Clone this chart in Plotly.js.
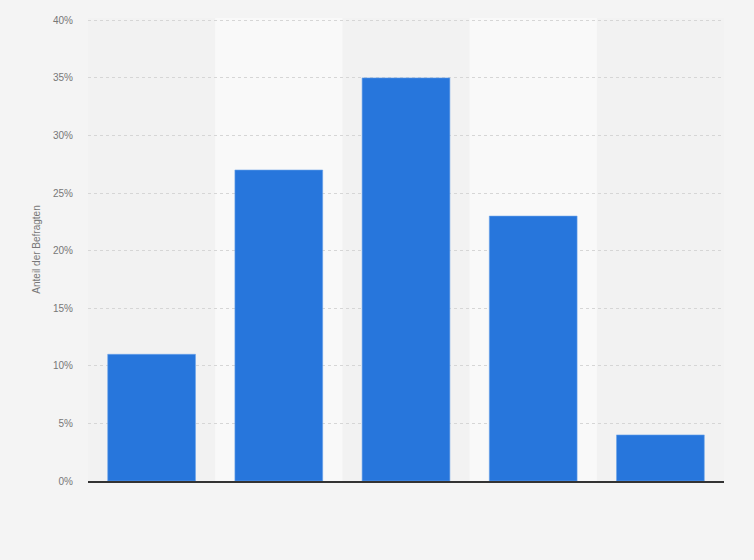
<!DOCTYPE html>
<html>
<head>
<meta charset="utf-8">
<script src="https://cdn.plot.ly/plotly-3.0.1.min.js"></script>
<style>
  html, body { margin: 0; padding: 0; background: #f4f4f4; }
  #chart { width: 754px; height: 560px; }
</style>
</head>
<body>
<div id="chart"></div>
<script>
// categories are not labelled in the picture
var categories = ["1", "2", "3", "4", "5"];
var shares = [11, 27, 35, 23, 4];
var yTicks = [0, 5, 10, 15, 20, 25, 30, 35, 40];
var yTickText = yTicks.map(function (v) { return v + "%"; });

// light bands behind every second category
var bands = [];
for (var i = 1; i < categories.length; i += 2) {
    bands.push({
        type: "rect",
        xref: "x",
        yref: "paper",
        x0: i - 0.5,
        x1: i + 0.5,
        y0: 0,
        y1: 1,
        fillcolor: "#f9f9f9",
        line: { width: 0 },
        layer: "below"
    });
}

var bars = {
    x: categories,
    y: shares,
    type: "bar",
    marker: {
        color: "#2776dc",
        line: { color: "#6aa3ea", width: 0.6 }
    },
    hoverinfo: "y"
};

var layout = {
    width: 754,
    height: 560,
    margin: { l: 88, r: 30, t: 18, b: 79 },
    paper_bgcolor: "#f4f4f4",
    plot_bgcolor: "#f2f2f2",
    bargap: 0.31,
    showlegend: false,
    shapes: bands,
    font: { family: "Liberation Sans, Arial, sans-serif", size: 10, color: "#777777" },
    xaxis: {
        type: "category",
        showticklabels: false,
        showgrid: false,
        ticks: "",
        showline: true,
        linecolor: "#333333",
        linewidth: 1.5,
        fixedrange: true
    },
    yaxis: {
        range: [0, 40.2],
        tickmode: "array",
        tickvals: yTicks,
        ticktext: yTickText,
        ticks: "",
        ticklabelstandoff: 14,
        showgrid: true,
        gridcolor: "#d6d6d6",
        griddash: "dot",
        gridwidth: 1,
        zeroline: false,
        tickfont: { size: 10, color: "#777777" },
        title: {
            text: "Anteil der Befragten",
            font: { size: 10, color: "#777777" },
            standoff: 10
        },
        fixedrange: true
    }
};

Plotly.newPlot("chart", [bars], layout, { displayModeBar: false, staticPlot: true });
</script>
</body>
</html>
